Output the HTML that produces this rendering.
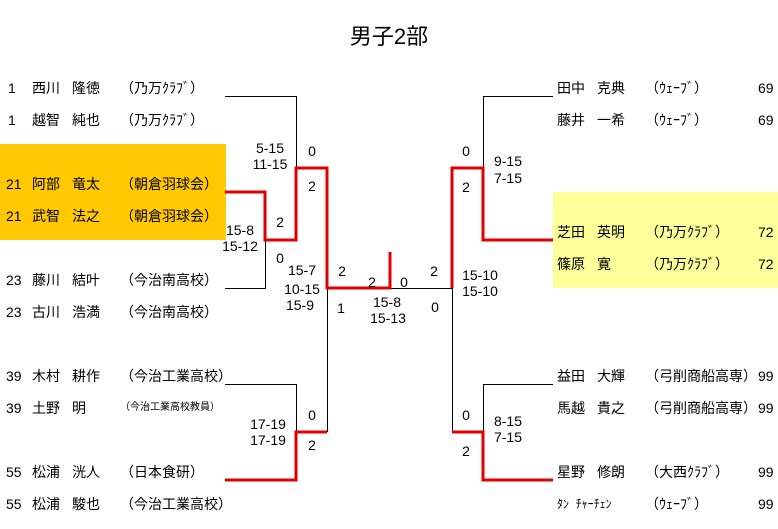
<!DOCTYPE html>
<html><head><meta charset="utf-8"><style>
body{margin:0;width:778px;height:529px;background:#fff;position:relative;overflow:hidden;font-family:"Liberation Sans","Noto Sans CJK JP",sans-serif;font-size:14px;color:#000}
.t{position:absolute;white-space:nowrap;line-height:16px}
.c{transform:translateX(-50%)}
</style></head><body>
<div style="position:absolute;left:0;top:144px;width:226px;height:96px;background:#ffc800"></div>
<div style="position:absolute;left:553px;top:192px;width:225px;height:96px;background:#ffff99"></div>
<div class="t c" style="left:389px;top:24px;font-size:22px;line-height:26px">男子2部</div>
<svg width="778" height="529" style="position:absolute;left:0;top:0">
<g stroke="#000" stroke-width="1" fill="none">
<polyline points="225,96.5 296.5,96.5 296.5,168"/>
<polyline points="225,288.5 265.5,288.5 265.5,240"/>
<polyline points="327.5,288 327.5,432"/>
<polyline points="390,288.5 452,288.5"/>
<polyline points="452.5,288 452.5,432"/>
<polyline points="553,96.5 483.5,96.5 483.5,168"/>
<polyline points="225,384.5 296.5,384.5 296.5,432"/>
<polyline points="553,384.5 483.5,384.5 483.5,432"/>
</g>
<g stroke="#e00000" stroke-width="3" fill="none">
<polyline points="225,192 265,192 265,240 296,240 296,168 327,168 327,288 390,288 390,252"/>
<polyline points="553,240 483,240 483,168 452,168 452,288"/>
<polyline points="225,480 296,480 296,432 327,432"/>
<polyline points="553,480 483,480 483,432 452,432"/>
</g>
</svg>
<div class="t" style="left:8px;top:80px">1</div><div class="t" style="left:32px;top:80px">西川</div><div class="t" style="left:72px;top:80px">隆徳</div><div class="t" style="left:120px;top:80px">（乃万ｸﾗﾌﾞ）</div>
<div class="t" style="left:8px;top:112px">1</div><div class="t" style="left:32px;top:112px">越智</div><div class="t" style="left:72px;top:112px">純也</div><div class="t" style="left:120px;top:112px">（乃万ｸﾗﾌﾞ）</div>
<div class="t" style="left:6px;top:176px">21</div><div class="t" style="left:32px;top:176px">阿部</div><div class="t" style="left:72px;top:176px">竜太</div><div class="t" style="left:120px;top:176px">（朝倉羽球会）</div>
<div class="t" style="left:6px;top:208px">21</div><div class="t" style="left:32px;top:208px">武智</div><div class="t" style="left:72px;top:208px">法之</div><div class="t" style="left:120px;top:208px">（朝倉羽球会）</div>
<div class="t" style="left:6px;top:272px">23</div><div class="t" style="left:32px;top:272px">藤川</div><div class="t" style="left:72px;top:272px">結叶</div><div class="t" style="left:120px;top:272px">（今治南高校）</div>
<div class="t" style="left:6px;top:304px">23</div><div class="t" style="left:32px;top:304px">古川</div><div class="t" style="left:72px;top:304px">浩満</div><div class="t" style="left:120px;top:304px">（今治南高校）</div>
<div class="t" style="left:6px;top:368px">39</div><div class="t" style="left:32px;top:368px">木村</div><div class="t" style="left:72px;top:368px">耕作</div><div class="t" style="left:120px;top:368px">（今治工業高校）</div>
<div class="t" style="left:6px;top:400px">39</div><div class="t" style="left:32px;top:400px">土野</div><div class="t" style="left:72px;top:400px">明</div><div class="t" style="left:120px;top:400px;font-size:10px">（今治工業高校教員）</div>
<div class="t" style="left:6px;top:464px">55</div><div class="t" style="left:32px;top:464px">松浦</div><div class="t" style="left:72px;top:464px">洸人</div><div class="t" style="left:120px;top:464px">（日本食研）</div>
<div class="t" style="left:6px;top:496px">55</div><div class="t" style="left:32px;top:496px">松浦</div><div class="t" style="left:72px;top:496px">駿也</div><div class="t" style="left:120px;top:496px">（今治工業高校）</div>

<div class="t" style="left:557px;top:80px">田中</div><div class="t" style="left:597px;top:80px">克典</div><div class="t" style="left:645px;top:80px">（ｳｪｰﾌﾞ）</div><div class="t" style="left:758px;top:80px">69</div>
<div class="t" style="left:557px;top:112px">藤井</div><div class="t" style="left:597px;top:112px">一希</div><div class="t" style="left:645px;top:112px">（ｳｪｰﾌﾞ）</div><div class="t" style="left:758px;top:112px">69</div>
<div class="t" style="left:557px;top:224px">芝田</div><div class="t" style="left:597px;top:224px">英明</div><div class="t" style="left:645px;top:224px">（乃万ｸﾗﾌﾞ）</div><div class="t" style="left:758px;top:224px">72</div>
<div class="t" style="left:557px;top:256px">篠原</div><div class="t" style="left:597px;top:256px">寛</div><div class="t" style="left:645px;top:256px">（乃万ｸﾗﾌﾞ）</div><div class="t" style="left:758px;top:256px">72</div>
<div class="t" style="left:557px;top:368px">益田</div><div class="t" style="left:597px;top:368px">大輝</div><div class="t" style="left:645px;top:368px">（弓削商船高専）</div><div class="t" style="left:758px;top:368px">99</div>
<div class="t" style="left:557px;top:400px">馬越</div><div class="t" style="left:597px;top:400px">貴之</div><div class="t" style="left:645px;top:400px">（弓削商船高専）</div><div class="t" style="left:758px;top:400px">99</div>
<div class="t" style="left:557px;top:464px">星野</div><div class="t" style="left:597px;top:464px">修朗</div><div class="t" style="left:645px;top:464px">（大西ｸﾗﾌﾞ）</div><div class="t" style="left:758px;top:464px">99</div>
<div class="t" style="left:557px;top:496px;font-size:12px">ﾀﾝ&nbsp; ﾁｬｰﾁｪﾝ</div><div class="t" style="left:645px;top:496px">（ｳｪｰﾌﾞ）</div><div class="t" style="left:758px;top:496px">99</div>

<div class="t c" style="left:270px;top:140px">5-15</div><div class="t c" style="left:270px;top:156px">11-15</div>
<div class="t c" style="left:312px;top:143px">0</div><div class="t c" style="left:312px;top:178px">2</div>
<div class="t c" style="left:280px;top:214px">2</div>
<div class="t c" style="left:240px;top:222px">15-8</div><div class="t c" style="left:240px;top:238px">15-12</div>
<div class="t c" style="left:280px;top:250px">0</div>
<div class="t c" style="left:302px;top:262px">15-7</div><div class="t c" style="left:302px;top:281px">10-15</div><div class="t c" style="left:300px;top:297px">15-9</div>
<div class="t c" style="left:342px;top:263px">2</div><div class="t c" style="left:341px;top:300px">1</div>
<div class="t c" style="left:372px;top:274px">2</div><div class="t c" style="left:404px;top:274px">0</div>
<div class="t c" style="left:387px;top:294px">15-8</div><div class="t c" style="left:388px;top:310px">15-13</div>
<div class="t c" style="left:434px;top:263px">2</div><div class="t c" style="left:435px;top:299px">0</div>
<div class="t c" style="left:480px;top:267px">15-10</div><div class="t c" style="left:480px;top:283px">15-10</div>
<div class="t c" style="left:466px;top:143px">0</div><div class="t c" style="left:466px;top:179px">2</div>
<div class="t c" style="left:508px;top:153px">9-15</div><div class="t c" style="left:508px;top:170px">7-15</div>
<div class="t c" style="left:268px;top:416px">17-19</div><div class="t c" style="left:268px;top:432px">17-19</div>
<div class="t c" style="left:312px;top:407px">0</div><div class="t c" style="left:312px;top:437px">2</div>
<div class="t c" style="left:466px;top:407px">0</div><div class="t c" style="left:466px;top:443px">2</div>
<div class="t c" style="left:508px;top:413px">8-15</div><div class="t c" style="left:508px;top:429px">7-15</div>
</body></html>
